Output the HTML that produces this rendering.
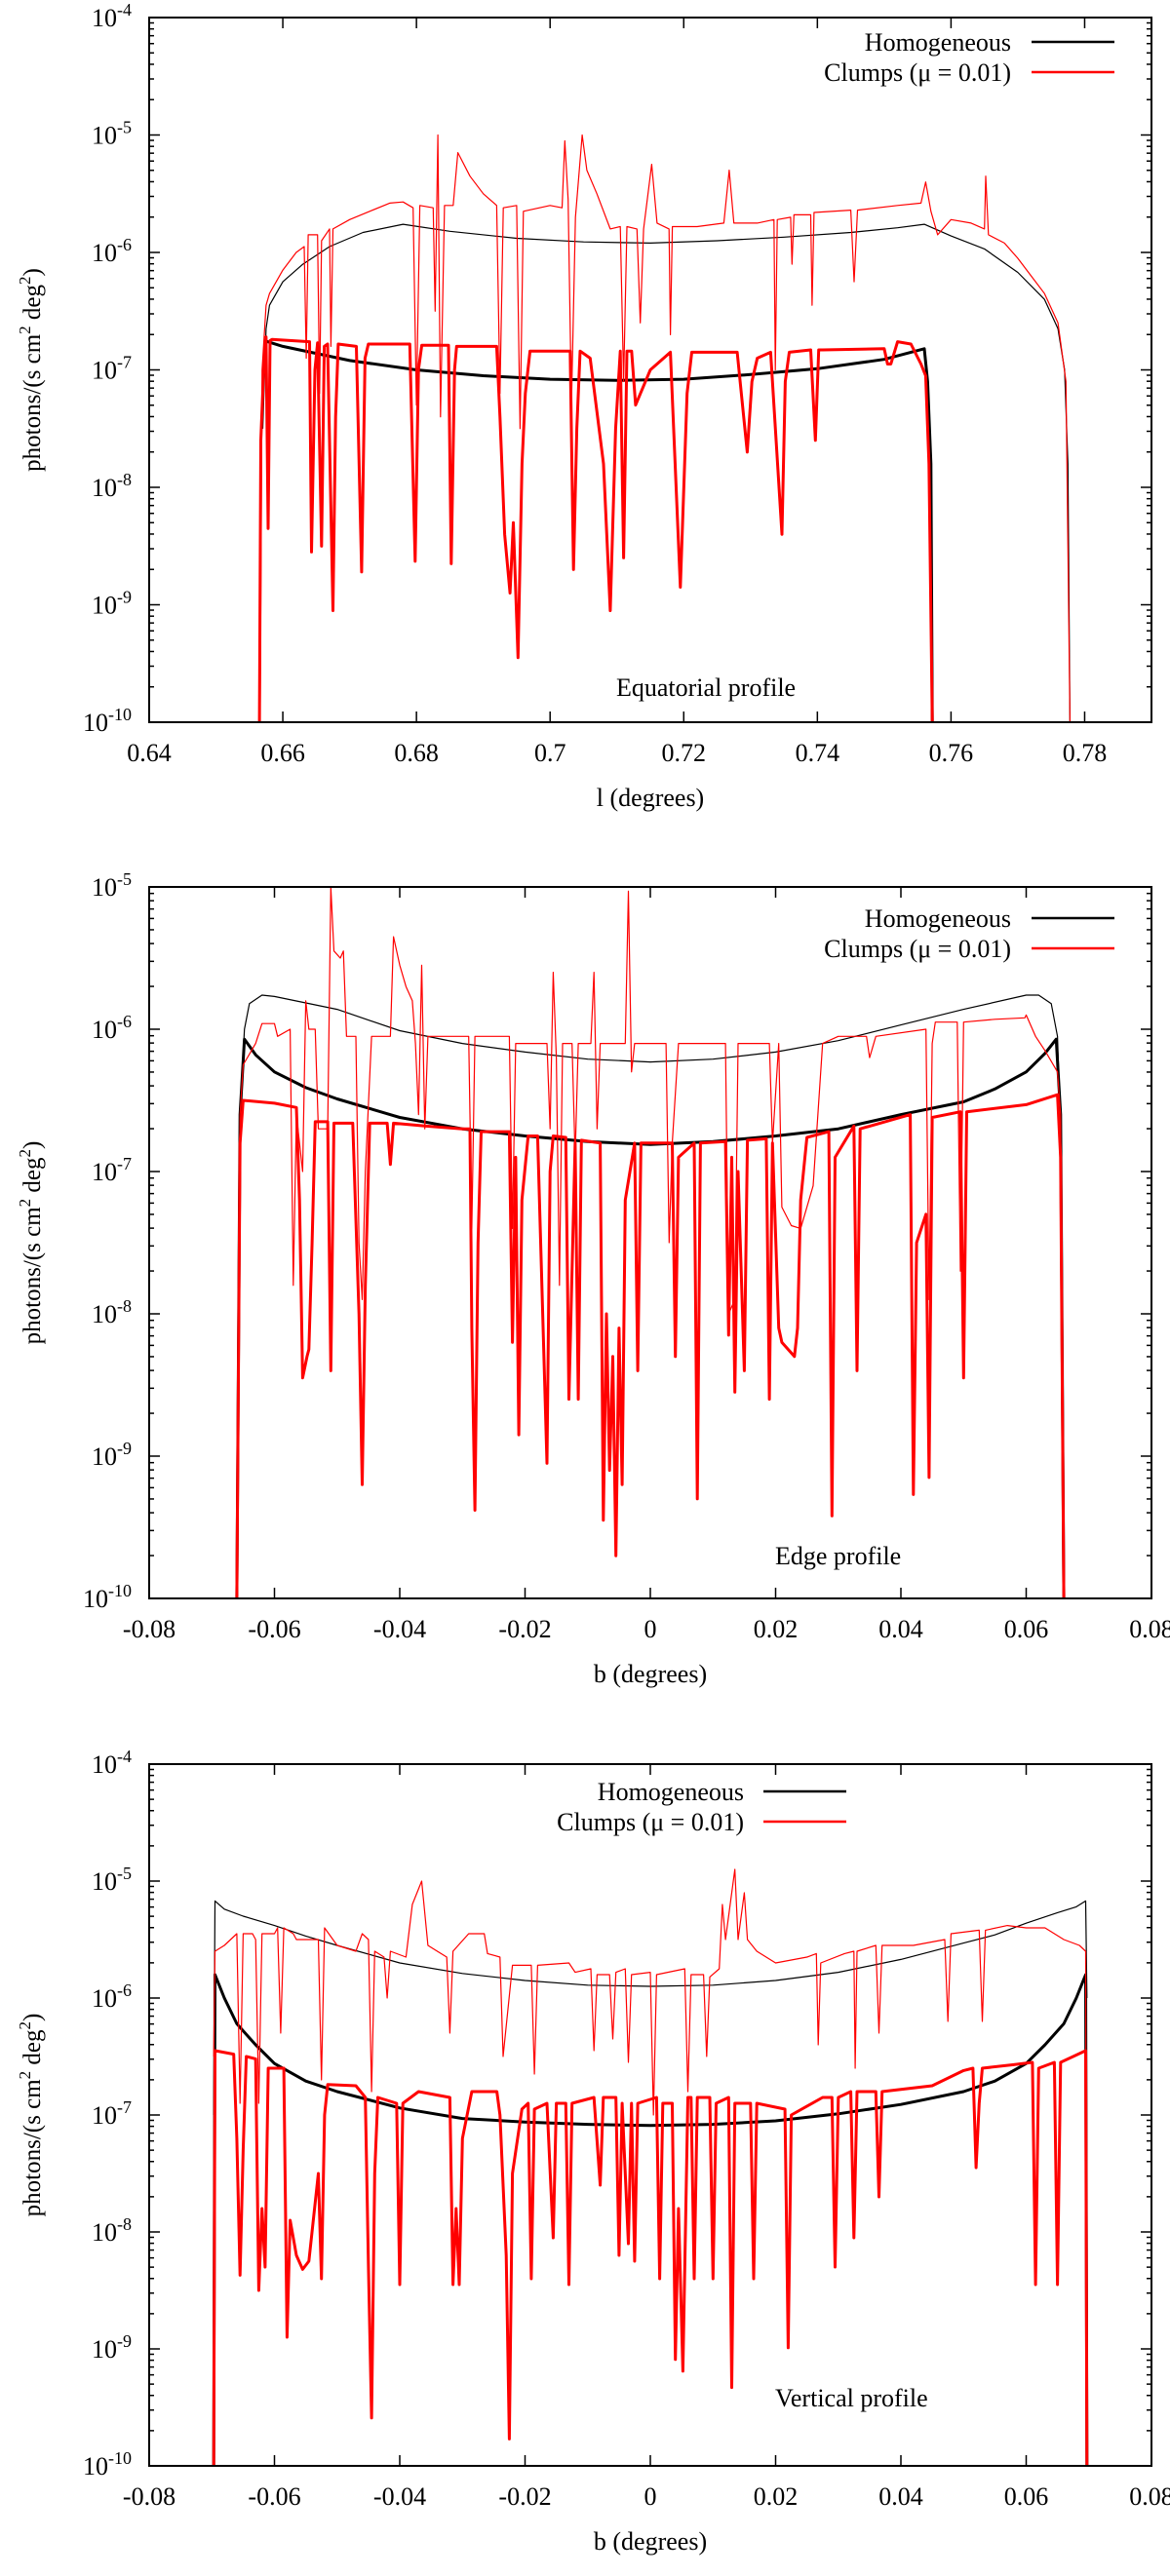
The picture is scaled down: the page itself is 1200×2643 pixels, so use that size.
<!DOCTYPE html>
<html><head><meta charset="utf-8"><style>
html,body{margin:0;padding:0;background:#fff}
svg{display:block}
text{font-family:"Liberation Serif",serif;fill:#000}
</style></head><body>
<svg id="fig" xmlns="http://www.w3.org/2000/svg" width="1200" height="2643" viewBox="0 0 1200 2643"></svg>
<script>
// ---------- Panel 1: Equatorial profile (x = l in degrees, y = log10 flux) ----------
const eqHomThinX=[0.6570,0.6575,0.658,0.66,0.663,0.667,0.672,0.678,0.685,0.695,0.705,0.715,0.725,0.735,0.745,0.752,0.756,0.76,0.765,0.77,0.774,0.776,0.777,0.7775,0.7778];
const eqHomThinY=[-7.5,-6.65,-6.45,-6.25,-6.1,-5.95,-5.83,-5.76,-5.82,-5.88,-5.91,-5.92,-5.9,-5.87,-5.83,-5.79,-5.76,-5.86,-5.97,-6.17,-6.4,-6.65,-7.0,-7.8,-10];
const eqHomThickX=[0.6572,0.66,0.67,0.68,0.69,0.70,0.71,0.72,0.73,0.74,0.75,0.756,0.7565,0.757,0.7572];
const eqHomThickY=[-6.75,-6.80,-6.92,-7.0,-7.05,-7.08,-7.09,-7.08,-7.04,-6.99,-6.91,-6.82,-7.1,-7.8,-10];
const eqClumpThickX=[0.6565,0.6567,0.6572,0.6575,0.6578,0.6581,0.6584,0.664,0.6643,0.6648,0.6652,0.6658,0.6662,0.6667,0.6675,0.6679,0.6683,0.671,0.6718,0.6723,0.6728,0.679,0.6798,0.6803,0.6808,0.6848,0.6852,0.6857,0.686,0.692,0.6925,0.6932,0.694,0.6945,0.6952,0.6958,0.6963,0.697,0.698,0.703,0.7035,0.704,0.7045,0.706,0.708,0.709,0.7098,0.7105,0.711,0.7115,0.7122,0.7128,0.715,0.718,0.7195,0.7205,0.7212,0.7218,0.723,0.728,0.7295,0.7302,0.731,0.733,0.7347,0.7352,0.7358,0.739,0.7397,0.7402,0.7408,0.75,0.7505,0.751,0.752,0.754,0.7555,0.7562,0.7567,0.7572];
const eqClumpThickY=[-10,-7.6,-6.9,-6.72,-8.35,-6.75,-6.74,-6.76,-8.55,-7.0,-6.77,-8.5,-6.8,-6.78,-9.05,-7.4,-6.78,-6.8,-8.72,-6.9,-6.78,-6.78,-8.63,-7.0,-6.79,-6.79,-8.65,-7.0,-6.8,-6.8,-7.4,-8.4,-8.9,-8.3,-9.45,-7.8,-7.2,-6.84,-6.84,-6.84,-8.7,-7.5,-6.84,-6.9,-7.8,-9.05,-7.5,-6.84,-8.6,-6.84,-6.84,-7.3,-7.0,-6.85,-8.85,-7.2,-6.85,-6.85,-6.85,-6.85,-7.7,-7.1,-6.9,-6.85,-8.4,-7.1,-6.85,-6.83,-7.6,-6.83,-6.83,-6.82,-6.95,-6.95,-6.76,-6.78,-6.95,-7.05,-7.8,-10];
const eqClumpThinX=[0.6566,0.6569,0.6575,0.658,0.66,0.662,0.6632,0.6635,0.6638,0.6652,0.6655,0.6658,0.667,0.6672,0.6675,0.670,0.673,0.676,0.678,0.6795,0.680,0.6805,0.6825,0.6828,0.6832,0.6836,0.6842,0.6855,0.6862,0.688,0.690,0.692,0.6925,0.693,0.695,0.6955,0.696,0.700,0.7018,0.7022,0.7027,0.7032,0.7038,0.7048,0.7055,0.707,0.709,0.7105,0.711,0.7115,0.713,0.7135,0.714,0.7152,0.716,0.7178,0.718,0.7183,0.722,0.726,0.7268,0.7275,0.731,0.7335,0.7337,0.734,0.736,0.7362,0.7365,0.739,0.7392,0.7395,0.745,0.7455,0.746,0.752,0.7555,0.7562,0.757,0.758,0.76,0.763,0.765,0.7652,0.7656,0.768,0.770,0.772,0.774,0.776,0.7772,0.7778];
const eqClumpThinY=[-10,-7.0,-6.45,-6.35,-6.15,-6.0,-5.95,-6.9,-5.85,-5.85,-7.2,-5.9,-5.8,-6.8,-5.8,-5.72,-5.65,-5.58,-5.57,-5.62,-7.3,-5.6,-5.62,-6.5,-5.0,-7.4,-5.6,-5.6,-5.15,-5.35,-5.5,-5.6,-7.2,-5.62,-5.6,-7.5,-5.65,-5.6,-5.62,-5.05,-5.55,-7.3,-5.7,-5.0,-5.3,-5.5,-5.8,-5.78,-7.1,-5.78,-5.8,-6.6,-5.8,-5.25,-5.75,-5.8,-6.7,-5.78,-5.78,-5.75,-5.3,-5.75,-5.75,-5.72,-7.0,-5.72,-5.7,-6.1,-5.68,-5.68,-6.45,-5.66,-5.64,-6.25,-5.64,-5.6,-5.58,-5.4,-5.65,-5.85,-5.72,-5.75,-5.8,-5.35,-5.85,-5.92,-6.05,-6.2,-6.35,-6.6,-7.1,-10];
const eqXTicks=[0.64,0.66,0.68,0.70,0.72,0.74,0.76,0.78];
const eqXTickLabels=["0.64","0.66","0.68","0.7","0.72","0.74","0.76","0.78"];

// ---------- Panel 2: Edge profile ----------
const edHomThinX=[-0.0660,-0.0655,-0.0648,-0.064,-0.062,-0.06,-0.05,-0.04,-0.03,-0.02,-0.01,0,0.01,0.02,0.03,0.04,0.05,0.06,0.062,0.064,0.065,0.0655,0.066];
const edHomThinY=[-10,-6.6,-6.0,-5.82,-5.76,-5.77,-5.86,-6.01,-6.1,-6.16,-6.21,-6.23,-6.21,-6.16,-6.08,-5.97,-5.86,-5.76,-5.76,-5.82,-6.05,-6.7,-10];
const edHomThickX=[-0.066,-0.0655,-0.0648,-0.063,-0.06,-0.055,-0.05,-0.04,-0.03,-0.02,-0.01,0,0.01,0.02,0.03,0.04,0.05,0.055,0.06,0.063,0.0648,0.0655,0.066];
const edHomThickY=[-10,-6.6,-6.07,-6.18,-6.3,-6.41,-6.49,-6.62,-6.7,-6.75,-6.79,-6.81,-6.79,-6.75,-6.7,-6.6,-6.51,-6.42,-6.3,-6.17,-6.07,-6.6,-10];
const edClumpThickX=[-0.066,-0.0655,-0.065,-0.06,-0.0565,-0.056,-0.0555,-0.0548,-0.0545,-0.054,-0.0535,-0.0515,-0.051,-0.0505,-0.0475,-0.0465,-0.046,-0.0455,-0.0448,-0.042,-0.0415,-0.041,-0.036,-0.03,-0.0288,-0.0285,-0.028,-0.0275,-0.027,-0.0225,-0.022,-0.0215,-0.021,-0.0205,-0.0195,-0.018,-0.0165,-0.016,-0.0155,-0.0135,-0.013,-0.012,-0.0115,-0.011,-0.008,-0.0075,-0.007,-0.0065,-0.006,-0.0055,-0.005,-0.0045,-0.004,-0.0025,-0.002,-0.0015,0.0035,0.004,0.0045,0.007,0.0075,0.008,0.012,0.0125,0.013,0.0135,0.014,0.015,0.0155,0.0185,0.019,0.0195,0.0205,0.021,0.023,0.0235,0.024,0.025,0.0285,0.029,0.0295,0.0325,0.033,0.0335,0.0415,0.042,0.0425,0.044,0.0445,0.045,0.0495,0.05,0.0505,0.06,0.065,0.0655,0.066];
const edClumpThickY=[-10,-6.8,-6.5,-6.52,-6.55,-7.2,-8.45,-8.3,-8.25,-7.5,-6.65,-6.65,-8.4,-6.66,-6.66,-8.0,-9.2,-7.8,-6.66,-6.66,-6.95,-6.66,-6.68,-6.7,-6.7,-8.1,-9.38,-7.5,-6.72,-6.72,-8.2,-6.9,-8.85,-7.2,-6.75,-6.75,-9.05,-7.0,-6.75,-6.76,-8.6,-6.8,-8.6,-6.78,-6.8,-9.45,-8.0,-9.1,-8.3,-9.7,-8.1,-9.2,-7.2,-6.8,-8.4,-6.8,-6.8,-8.3,-6.9,-6.8,-9.3,-6.8,-6.79,-8.15,-6.9,-8.55,-7.0,-8.4,-6.78,-6.77,-8.6,-6.8,-8.1,-8.2,-8.3,-8.1,-7.2,-6.76,-6.72,-9.42,-6.9,-6.68,-8.4,-6.7,-6.6,-9.27,-7.5,-7.3,-9.15,-6.62,-6.58,-8.45,-6.58,-6.53,-6.46,-6.9,-10];
const edClumpThinX=[-0.066,-0.0655,-0.065,-0.063,-0.062,-0.060,-0.0595,-0.0575,-0.057,-0.0565,-0.0555,-0.055,-0.0545,-0.0535,-0.053,-0.0515,-0.051,-0.0505,-0.0495,-0.049,-0.0485,-0.047,-0.0465,-0.046,-0.0455,-0.0445,-0.0415,-0.041,-0.04,-0.039,-0.038,-0.0375,-0.037,-0.0365,-0.036,-0.0355,-0.029,-0.0285,-0.028,-0.0225,-0.022,-0.0215,-0.0165,-0.016,-0.0155,-0.015,-0.0145,-0.014,-0.0125,-0.012,-0.0115,-0.0095,-0.009,-0.0085,-0.008,-0.004,-0.0035,-0.003,-0.0025,0.0025,0.003,0.0035,0.0045,0.012,0.0125,0.0135,0.014,0.019,0.0195,0.0205,0.021,0.0225,0.024,0.026,0.0275,0.03,0.0345,0.035,0.036,0.044,0.0445,0.045,0.0455,0.049,0.0495,0.050,0.055,0.0598,0.06,0.0615,0.063,0.065,0.0655,0.066];
const edClumpThinY=[-10,-6.6,-6.25,-6.1,-5.96,-5.96,-6.05,-6.0,-7.8,-6.6,-7.0,-5.8,-6.0,-6.0,-6.7,-6.7,-5.0,-5.45,-5.5,-5.45,-6.05,-6.05,-7.5,-7.9,-7.0,-6.05,-6.05,-5.35,-5.55,-5.7,-5.8,-6.1,-6.6,-5.55,-6.7,-6.05,-6.05,-7.4,-6.05,-6.05,-7.4,-6.1,-6.1,-6.7,-5.6,-6.2,-7.8,-6.1,-6.1,-6.9,-6.1,-6.1,-5.6,-6.7,-6.1,-6.1,-5.03,-6.3,-6.1,-6.1,-7.5,-6.8,-6.1,-6.1,-8.0,-7.9,-6.1,-6.1,-6.8,-6.1,-7.25,-7.38,-7.4,-7.1,-6.1,-6.05,-6.05,-6.2,-6.05,-6.0,-7.9,-6.1,-5.95,-5.95,-7.7,-5.95,-5.93,-5.92,-5.9,-6.05,-6.15,-6.3,-6.6,-10];

// ---------- Panel 3: Vertical profile ----------
const veHomThinX=[-0.0697,-0.0695,-0.068,-0.065,-0.06,-0.055,-0.05,-0.04,-0.03,-0.02,-0.01,0,0.01,0.02,0.03,0.04,0.05,0.055,0.06,0.065,0.068,0.0695,0.0697];
const veHomThinY=[-7.0,-5.17,-5.24,-5.3,-5.38,-5.47,-5.55,-5.7,-5.79,-5.85,-5.89,-5.9,-5.89,-5.85,-5.78,-5.67,-5.53,-5.46,-5.36,-5.27,-5.22,-5.17,-6.0];
const veHomThickX=[-0.0697,-0.0695,-0.068,-0.066,-0.063,-0.06,-0.055,-0.05,-0.04,-0.03,-0.02,-0.01,0,0.01,0.02,0.03,0.04,0.05,0.055,0.06,0.063,0.066,0.068,0.0695,0.0697];
const veHomThickY=[-10,-5.8,-6.0,-6.22,-6.4,-6.56,-6.71,-6.8,-6.94,-7.03,-7.06,-7.08,-7.09,-7.08,-7.05,-6.99,-6.91,-6.8,-6.71,-6.56,-6.4,-6.22,-6.0,-5.8,-10];
const veClumpThickX=[-0.0697,-0.0695,-0.0665,-0.066,-0.0655,-0.065,-0.0645,-0.063,-0.0625,-0.062,-0.0615,-0.061,-0.0585,-0.058,-0.0575,-0.0565,-0.0555,-0.0545,-0.053,-0.0525,-0.052,-0.0515,-0.047,-0.0455,-0.045,-0.0445,-0.044,-0.0435,-0.0405,-0.040,-0.0395,-0.037,-0.032,-0.0315,-0.031,-0.0305,-0.030,-0.0285,-0.0245,-0.024,-0.023,-0.0225,-0.022,-0.0205,-0.0195,-0.019,-0.0185,-0.0165,-0.0155,-0.015,-0.0135,-0.013,-0.0125,-0.009,-0.008,-0.0075,-0.0055,-0.005,-0.0045,-0.0035,-0.003,-0.0025,-0.002,0.001,0.0015,0.002,0.0035,0.004,0.0045,0.0052,0.006,0.0065,0.007,0.0075,0.0095,0.010,0.0105,0.0125,0.013,0.0135,0.016,0.0165,0.017,0.0215,0.022,0.0225,0.0275,0.029,0.0295,0.030,0.032,0.0325,0.033,0.036,0.0365,0.037,0.045,0.05,0.0515,0.052,0.0525,0.053,0.058,0.061,0.0615,0.062,0.0645,0.065,0.0655,0.0695,0.0697];
const veClumpThickY=[-10,-6.45,-6.48,-7.2,-8.37,-7.3,-6.5,-6.52,-8.5,-7.8,-8.3,-6.6,-6.6,-8.9,-7.9,-8.2,-8.32,-8.25,-7.5,-8.4,-7.0,-6.74,-6.75,-6.85,-8.3,-9.59,-7.5,-6.85,-6.9,-8.45,-6.9,-6.8,-6.85,-8.45,-7.8,-8.45,-7.2,-6.8,-6.8,-7.0,-8.2,-9.77,-7.5,-6.95,-6.9,-8.4,-6.95,-6.9,-8.05,-6.9,-6.9,-8.45,-6.9,-6.85,-7.6,-6.85,-6.85,-8.2,-6.9,-8.1,-6.9,-8.25,-6.9,-6.85,-8.4,-6.9,-6.9,-9.09,-7.8,-9.19,-6.85,-6.85,-8.4,-6.85,-6.85,-8.4,-6.9,-6.85,-9.33,-6.9,-6.9,-8.4,-6.9,-6.95,-8.99,-7.0,-6.85,-6.85,-8.3,-6.85,-6.8,-8.05,-6.8,-6.8,-7.7,-6.8,-6.75,-6.62,-6.6,-7.45,-6.9,-6.6,-6.57,-6.55,-8.45,-6.6,-6.55,-8.45,-6.55,-6.45,-10];
const veClumpThinX=[-0.0697,-0.0695,-0.068,-0.066,-0.0655,-0.065,-0.0635,-0.063,-0.0625,-0.062,-0.06,-0.0595,-0.059,-0.0585,-0.057,-0.0565,-0.055,-0.053,-0.0525,-0.052,-0.05,-0.047,-0.046,-0.045,-0.0445,-0.044,-0.0425,-0.042,-0.0415,-0.039,-0.038,-0.0365,-0.0355,-0.034,-0.0325,-0.032,-0.0315,-0.029,-0.0265,-0.026,-0.024,-0.0235,-0.022,-0.019,-0.0185,-0.018,-0.013,-0.012,-0.0095,-0.009,-0.0085,-0.0065,-0.006,-0.0055,-0.004,-0.0035,-0.003,0.0,0.0005,0.001,0.0055,0.006,0.0065,0.0085,0.009,0.0095,0.011,0.0115,0.012,0.0135,0.014,0.015,0.0155,0.017,0.02,0.025,0.0265,0.0268,0.0272,0.031,0.0325,0.0327,0.033,0.036,0.0365,0.037,0.042,0.047,0.0475,0.048,0.0525,0.053,0.0535,0.057,0.06,0.063,0.066,0.0685,0.0695,0.0697];
const veClumpThinY=[-6.5,-5.6,-5.55,-5.45,-6.9,-5.45,-5.45,-5.5,-6.9,-5.45,-5.45,-5.4,-6.3,-5.4,-5.45,-5.5,-5.5,-5.5,-6.7,-5.4,-5.55,-5.6,-5.45,-5.5,-6.8,-5.6,-5.65,-6.0,-5.6,-5.65,-5.2,-5.0,-5.55,-5.6,-5.65,-6.3,-5.6,-5.45,-5.45,-5.62,-5.65,-6.5,-5.72,-5.72,-6.65,-5.72,-5.7,-5.78,-5.75,-6.45,-5.8,-5.8,-6.35,-5.78,-5.75,-6.55,-5.8,-5.78,-7.0,-5.8,-5.75,-6.8,-5.8,-5.8,-6.5,-5.82,-5.75,-5.2,-5.5,-4.9,-5.5,-5.1,-5.5,-5.6,-5.7,-5.65,-5.62,-6.4,-5.7,-5.62,-5.6,-6.6,-5.6,-5.55,-6.3,-5.55,-5.55,-5.5,-6.2,-5.45,-5.42,-6.2,-5.42,-5.38,-5.4,-5.4,-5.5,-5.55,-5.6,-10];
const bXTicks=[-0.08,-0.06,-0.04,-0.02,0,0.02,0.04,0.06,0.08];
const bXTickLabels=["-0.08","-0.06","-0.04","-0.02","0","0.02","0.04","0.06","0.08"];

const NS="http://www.w3.org/2000/svg";
const svg=document.getElementById('fig');
function mk(tag,attrs,parent){const e=document.createElementNS(NS,tag);for(const k in attrs)e.setAttribute(k,attrs[k]);(parent||svg).appendChild(e);return e;}

const panels=[
 {id:'equatorial',L:153,R:1181,T:18,B:741,xmin:0.64,xmax:0.79,ymin:-10,ymax:-4,xt:eqXTicks,xl:eqXTickLabels,xtitle:'l (degrees)',note:'Equatorial profile',noteX:632,noteY:714,legX:1037,legY:43,legL:1058,legR:1143,
  series:[[eqHomThinX,eqHomThinY,'#000',1.2,'homogeneous-thin-line'],[eqHomThickX,eqHomThickY,'#000',3,'homogeneous-thick-line'],[eqClumpThinX,eqClumpThinY,'#f00',1.2,'clumps-thin-line'],[eqClumpThickX,eqClumpThickY,'#f00',3,'clumps-thick-line']]},
 {id:'edge',L:153,R:1181,T:910,B:1640,xmin:-0.08,xmax:0.08,ymin:-10,ymax:-5,xt:bXTicks,xl:bXTickLabels,xtitle:'b (degrees)',note:'Edge profile',noteX:795,noteY:1605,legX:1037,legY:942,legL:1058,legR:1143,
  series:[[edHomThinX,edHomThinY,'#000',1.2,'homogeneous-thin-line'],[edHomThickX,edHomThickY,'#000',3,'homogeneous-thick-line'],[edClumpThinX,edClumpThinY,'#f00',1.2,'clumps-thin-line'],[edClumpThickX,edClumpThickY,'#f00',3,'clumps-thick-line']]},
 {id:'vertical',L:153,R:1181,T:1810,B:2530,xmin:-0.08,xmax:0.08,ymin:-10,ymax:-4,xt:bXTicks,xl:bXTickLabels,xtitle:'b (degrees)',note:'Vertical profile',noteX:795,noteY:2469,legX:763,legY:1838,legL:783,legR:868,
  series:[[veHomThinX,veHomThinY,'#000',1.2,'homogeneous-thin-line'],[veHomThickX,veHomThickY,'#000',3,'homogeneous-thick-line'],[veClumpThinX,veClumpThinY,'#f00',1.2,'clumps-thin-line'],[veClumpThickX,veClumpThickY,'#f00',3,'clumps-thick-line']]}
];

panels.forEach((p,pi)=>{
  const g=mk('g',{});
  
  
  const sx=v=>p.L+(v-p.xmin)/(p.xmax-p.xmin)*(p.R-p.L);
  const sy=lv=>p.B-(lv-p.ymin)/(p.ymax-p.ymin)*(p.B-p.T);
  const cp=mk('clipPath',{id:'clip'+pi},g);
  mk('rect',{x:p.L,y:p.T,width:p.R-p.L,height:p.B-p.T},cp);
  // series
  const sg=mk('g',{'clip-path':'url(#clip'+pi+')'},g);
  p.series.forEach(s=>{
    const [xs,ys,col,w,name]=s;
    let d='';
    for(let i=0;i<xs.length;i++){d+=(i?'L':'M')+sx(xs[i]).toFixed(1)+','+sy(ys[i]).toFixed(1);}
    const path=mk('path',{d:d,fill:'none',stroke:col,'stroke-width':w,'stroke-linejoin':'round'},sg);
    
    
  });
  // frame
  const fr=mk('rect',{x:p.L,y:p.T,width:p.R-p.L,height:p.B-p.T,fill:'none',stroke:'#000','stroke-width':2},g);
  
  
  // y ticks
  const yt=mk('g',{stroke:'#000','stroke-width':1.5},g);
  for(let e=p.ymin;e<=p.ymax;e++){
    const y=sy(e);
    mk('line',{x1:p.L,y1:y,x2:p.L+11,y2:y},yt);
    mk('line',{x1:p.R,y1:y,x2:p.R-11,y2:y},yt);
    if(e<p.ymax){for(let m=2;m<=9;m++){const ym=sy(e+Math.log10(m));mk('line',{x1:p.L,y1:ym,x2:p.L+5,y2:ym},yt);mk('line',{x1:p.R,y1:ym,x2:p.R-5,y2:ym},yt);}}
    const t=mk('text',{x:135,y:y+9,'text-anchor':'end','font-size':26},g);
    
    
    t.appendChild(document.createTextNode('10'));
    const sup=mk('tspan',{dy:-11,'font-size':18},t);sup.textContent=String(e);
  }
  // x ticks
  p.xt.forEach((v,i)=>{
    const x=sx(v);
    mk('line',{x1:x,y1:p.B,x2:x,y2:p.B-11},yt);
    mk('line',{x1:x,y1:p.T,x2:x,y2:p.T+11},yt);
    const t=mk('text',{x:x,y:p.B+40,'text-anchor':'middle','font-size':26},g);
    
    
    t.textContent=p.xl[i];
  });
  const xt=mk('text',{x:667,y:p.B+86,'text-anchor':'middle','font-size':26},g);
  
  
  xt.textContent=p.xtitle;
  const cy=(p.T+p.B)/2;
  const yti=mk('text',{x:0,y:0,'text-anchor':'middle','font-size':25,transform:'translate(41,'+cy+') rotate(-90)'},g);
  
  
  yti.appendChild(document.createTextNode('photons/(s cm'));
  let s1=mk('tspan',{dy:-10,'font-size':17},yti);s1.textContent='2';
  let s2=mk('tspan',{dy:10},yti);s2.textContent=' deg';
  let s3=mk('tspan',{dy:-10,'font-size':17},yti);s3.textContent='2';
  let s4=mk('tspan',{dy:10},yti);s4.textContent=')';
  const nt=mk('text',{x:p.noteX,y:p.noteY,'font-size':26},g);
  
  
  nt.textContent=p.note;
  // legend
  const lg=mk('g',{},g);
  
  
  const l1=mk('text',{x:p.legX,y:p.legY+9,'text-anchor':'end','font-size':26},lg);
  
  
  l1.textContent='Homogeneous';
  mk('line',{x1:p.legL,y1:p.legY,x2:p.legR,y2:p.legY,stroke:'#000','stroke-width':2.5},lg);
  const l2=mk('text',{x:p.legX,y:p.legY+40,'text-anchor':'end','font-size':26},lg);
  
  
  l2.textContent='Clumps (\u03bc = 0.01)';
  mk('line',{x1:p.legL,y1:p.legY+31,x2:p.legR,y2:p.legY+31,stroke:'#f00','stroke-width':2.5},lg);
});
</script>
</body></html>
